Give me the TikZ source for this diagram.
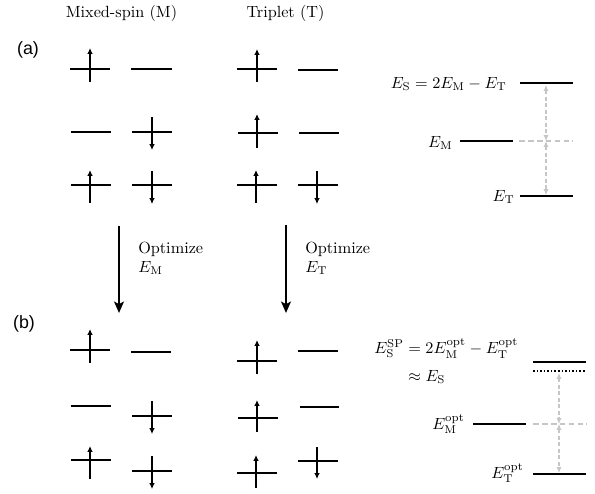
\documentclass[tikz,border=0pt]{standalone}
\usepackage{amsmath}
\usepackage{fontspec}
\newfontfamily\labfont{Liberation Sans}
\usetikzlibrary{arrows.meta}
\tikzset{
  level/.style={line width=1.45pt},
  spin/.style={line width=1.05pt,-{Latex[length=3.6pt,width=3.4pt]}},
  optarrow/.style={line width=1.3pt,-{Stealth[length=7pt,width=6pt,inset=1.5pt]}},
  elevel/.style={line width=1.6pt},
  glevel/.style={line width=1.2pt,gray!45,dash pattern=on 3.5pt off 2pt},
  garrow/.style={line width=0.9pt,gray!45,dash pattern=on 2.5pt off 1.5pt,{Latex[length=3.6pt,width=3.2pt]}-{Latex[length=3.6pt,width=3.2pt]}},
  panel/.style={font=\labfont\fontsize{11}{13}\selectfont},
  txt/.style={inner sep=0pt},
}
\newcommand\lvl[3]{\draw[level] (#1,#3) -- (#2,#3);}
\newcommand\spn[3]{\draw[spin] (#1,#2) -- (#1,#3);}
\begin{document}
\begin{tikzpicture}[x=0.617pt,y=-0.617pt]
\useasboundingbox (0,0) rectangle (595,493);
% headers
\node[txt] (hM) at (121.5,13) {Mixed-spin (M)};
\node[txt] (hT) at (285.5,13) {Triplet (T)};
\node[panel,txt] (pa) at (28,50) {(a)};
\node[panel,txt] (pb) at (24,324) {(b)};
% ---- (a) Mixed-spin
\lvl{70}{110}{69}   \spn{90}{82}{48}
\lvl{131}{172}{69}
\lvl{71}{111}{132}
\lvl{132}{172}{132} \spn{152}{117}{150}
\lvl{71}{111}{185}  \spn{90}{203}{170}
\lvl{132}{172}{185} \spn{152}{171}{204}
% ---- (a) Triplet
\lvl{237}{277}{69}  \spn{257}{82}{49}
\lvl{298}{338}{70}
\lvl{238}{278}{133} \spn{257}{148}{114}
\lvl{299}{339}{133}
\lvl{237}{277}{185} \spn{256}{203}{170}
\lvl{298}{338}{185} \spn{317}{171}{204}
% ---- optimize arrows
\coordinate (oa1) at (119,226); \coordinate (ob1) at (119,313);
\coordinate (oa2) at (286,225); \coordinate (ob2) at (286,313);
\draw[optarrow] (oa1) -- (ob1);
\draw[optarrow] (oa2) -- (ob2);
\node[txt,anchor=west] (opt1) at (138,249) {Optimize};
\node[txt,anchor=west] (em1) at (138,268) {$E_{\mathrm{M}}$};
\node[txt,anchor=west] (opt2) at (305,249) {Optimize};
\node[txt,anchor=west] (et1) at (305,268) {$E_{\mathrm{T}}$};
% ---- (b) Mixed-spin
\lvl{70}{110}{350}  \spn{90}{363}{329}
\lvl{131}{171}{352}
\lvl{71}{111}{406}
\lvl{132}{172}{416} \spn{152}{401}{434}
\lvl{71}{111}{460}  \spn{90}{479}{446}
\lvl{132}{172}{471} \spn{152}{456}{489}
% ---- (b) Triplet
\lvl{237}{277}{361} \spn{257}{374}{340}
\lvl{298}{338}{351}
\lvl{238}{278}{418} \spn{257}{432}{400}
\lvl{300}{339}{407}
\lvl{237}{277}{473} \spn{256}{488}{455}
\lvl{298}{338}{461} \spn{317}{447}{479}
% ---- energy diagram (a)
\coordinate (sa1) at (520,83);  \coordinate (sa2) at (573,83);
\coordinate (ma1) at (460,141); \coordinate (ma2) at (513,141);
\coordinate (mg1) at (519,141); \coordinate (mg2) at (573,141);
\coordinate (ta1) at (520,196); \coordinate (ta2) at (573,196);
\draw[elevel] (sa1) -- (sa2);
\draw[elevel] (ma1) -- (ma2);
\draw[glevel] (mg1) -- (mg2);
\draw[elevel] (ta1) -- (ta2);
\coordinate (aS) at (546,85); \coordinate (aM) at (546,141); \coordinate (aT) at (546,195);
\draw[garrow] (aS) -- (aM);
\draw[garrow] (aM) -- (aT);
\node[txt,anchor=east] (lES) at (507,84) {$E_{\mathrm{S}} = 2E_{\mathrm{M}} - E_{\mathrm{T}}$};
\node[txt,anchor=east] (lEM) at (453,143) {$E_{\mathrm{M}}$};
\node[txt,anchor=east] (lET) at (515,197) {$E_{\mathrm{T}}$};
% ---- energy diagram (b)
\coordinate (sb1) at (533,362); \coordinate (sb2) at (586,362);
\coordinate (db1) at (533,371); \coordinate (db2) at (586,371);
\coordinate (mb1) at (473,424); \coordinate (mb2) at (526,424);
\coordinate (gb1) at (533,424); \coordinate (gb2) at (587,424);
\coordinate (tb1) at (533,474); \coordinate (tb2) at (586,474);
\draw[elevel] (sb1) -- (sb2);
\draw[line width=1.4pt,dash pattern=on 1pt off 1.2pt] (db1) -- (db2);
\draw[elevel] (mb1) -- (mb2);
\draw[glevel] (gb1) -- (gb2);
\draw[elevel] (tb1) -- (tb2);
\coordinate (bS) at (559,373); \coordinate (bM) at (559,424); \coordinate (bT) at (559,473);
\draw[garrow] (bS) -- (bM);
\draw[garrow] (bM) -- (bT);
\node[txt,anchor=west] (lESP) at (374,363) {$\begin{aligned} E_{\mathrm{S}}^{\mathrm{SP}} &= 2E_{\mathrm{M}}^{\mathrm{opt}} - E_{\mathrm{T}}^{\mathrm{opt}}\\[2pt] &\approx E_{\mathrm{S}}\end{aligned}$};
\node[txt,anchor=east] (lEMo) at (465,424) {$E_{\mathrm{M}}^{\mathrm{opt}}$};
\node[txt,anchor=east] (lETo) at (524,473) {$E_{\mathrm{T}}^{\mathrm{opt}}$};
\end{tikzpicture}
\end{document}
